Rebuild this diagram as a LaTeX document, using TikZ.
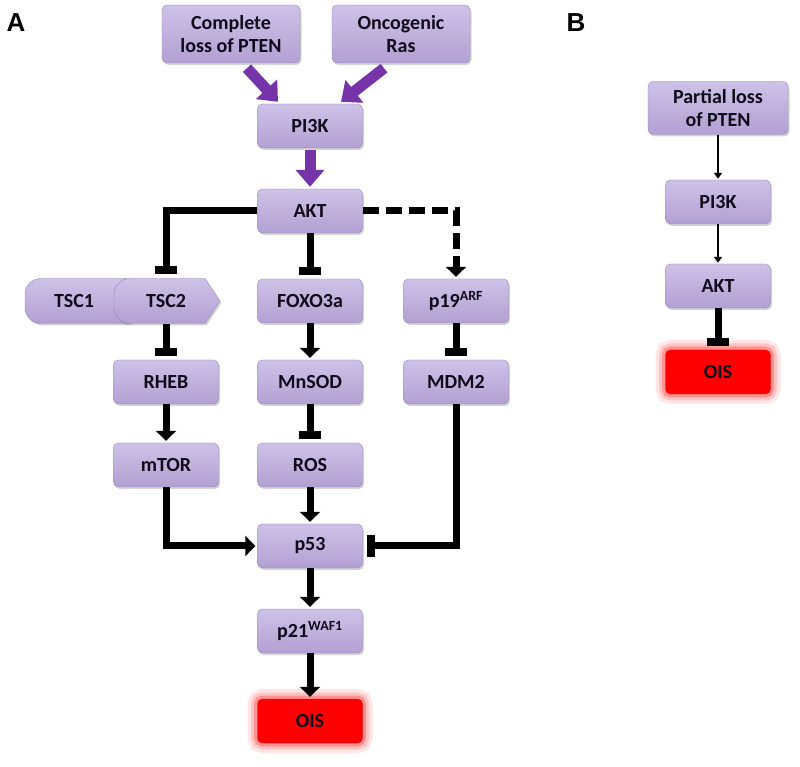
\documentclass[tikz,border=0pt]{standalone}
\usepackage{fontspec}
\setmainfont{Carlito}
\newfontfamily\panelfont{Liberation Sans}
\usetikzlibrary{arrows.meta,shadows}
\definecolor{lavtop}{RGB}{206,194,232}
\definecolor{lavbot}{RGB}{178,160,210}
\definecolor{lavedge}{RGB}{150,130,190}
\definecolor{txt}{RGB}{15,10,25}
\definecolor{arrpurple}{RGB}{118,52,168}
\tikzset{
  box/.style={draw=lavedge, rounded corners=5pt, top color=lavtop, bottom color=lavbot,
    minimum width=105pt, minimum height=44pt, inner sep=2pt, align=center, text=txt,
    font=\bfseries\fontsize{20}{23}\selectfont,
    drop shadow={shadow xshift=1.5pt, shadow yshift=-2pt, opacity=.35}},
  bigbox/.style={box, minimum width=138pt, minimum height=58pt},
  tscshape/.style={draw=lavedge, top color=lavtop, bottom color=lavbot,
    drop shadow={shadow xshift=1.5pt, shadow yshift=-2pt, opacity=.35}},
  tsclabel/.style={minimum height=45pt, inner sep=2pt, text=txt, font=\bfseries\fontsize{20}{23}\selectfont},
  oisbox/.style={rounded corners=5pt, fill=red, draw=red!85!black,
    minimum width=105pt, minimum height=44pt, text=txt, font=\bfseries\fontsize{20}{23}\selectfont,
    preaction={draw=red, line width=20pt, opacity=.10},
    preaction={draw=red, line width=13pt, opacity=.15},
    preaction={draw=red, line width=7pt, opacity=.25}},
  panel/.style={font=\panelfont\bfseries\fontsize{26}{28}\selectfont},
  pushes/.style={draw=arrpurple, line width=11pt, -{Triangle[length=17pt,width=28pt]}},
  act/.style={line width=7pt, -{Triangle[length=10pt,width=20pt]}, shorten >=2pt},
  dashact/.style={act, dash pattern=on 16pt off 7pt},
  inhib/.style={line width=7pt, -{Rectangle[length=8pt,width=22pt]}, shorten >=4pt},
  thinact/.style={line width=2pt, -{Triangle[length=6pt,width=8pt]}, shorten >=1pt}
}
\begin{document}
\begin{tikzpicture}[x=1pt,y=1pt]
  \useasboundingbox (0,0) rectangle (800,766);
  % panel A
  \node[panel] (labA) at (16,743) {A};
  \node[bigbox] (pten) at (231,732) {Complete\\loss of PTEN};
  \node[bigbox] (ras) at (401,732) {Oncogenic\\Ras};
  \node[box] (pi3k) at (310,640) {PI3K};
  \node[box] (akt) at (310,555) {AKT};
  % TSC1/TSC2 complex
  \draw[tscshape, rounded corners=16pt] (25,442.5) rectangle (140,487.5);
  \node[tsclabel] (tsc1) at (74,465) {TSC1};
  \draw[tscshape] (220,465) -- (205,487.5) [rounded corners=16pt] -- (114,487.5) -- (114,442.5) [sharp corners] -- (205,442.5) -- cycle;
  \node[tsclabel, minimum width=105pt] (tsc2) at (166,465) {TSC2};
  \node[box] (foxo) at (310,465) {FOXO3a};
  \node[box] (p19) at (456,465) {p19\textsuperscript{ARF}};
  \node[box] (rheb) at (166,384) {RHEB};
  \node[box] (mnsod) at (310,384) {MnSOD};
  \node[box] (mdm2) at (456,384) {MDM2};
  \node[box] (mtor) at (166,301) {mTOR};
  \node[box] (ros) at (310,301) {ROS};
  \node[box] (p53) at (310,220) {p53};
  \node[box] (p21) at (310,135) {p21\textsuperscript{WAF1}};
  \node[oisbox] (ois) at (310,45) {OIS};
  % panel B
  \node[panel] (labB) at (576,743) {B};
  \node[box, minimum width=140pt, minimum height=53pt] (bpten) at (718,658) {Partial loss\\of PTEN};
  \node[box] (bpi3k) at (718,564) {PI3K};
  \node[box] (bakt) at (718,480) {AKT};
  \node[oisbox] (bois) at (718,394) {OIS};
  % connectors A
  \draw[pushes] ([xshift=16pt,yshift=-5pt]pten.south) -- ([xshift=-32pt,yshift=2pt]pi3k.north);
  \draw[pushes] ([xshift=-17pt,yshift=-5pt]ras.south) -- ([xshift=31pt,yshift=2pt]pi3k.north);
  \draw[pushes] ([yshift=-2pt]pi3k.south) -- ([yshift=2pt]akt.north);
  \draw[inhib] (akt.west) -| (tsc2.north);
  \draw[inhib] (akt.south) -- (foxo.north);
  \draw[dashact] (akt.east) -| (p19.north);
  \draw[inhib] (tsc2.south) -- (rheb.north);
  \draw[act] (foxo.south) -- (mnsod.north);
  \draw[inhib] (p19.south) -- (mdm2.north);
  \draw[act] (rheb.south) -- (mtor.north);
  \draw[inhib] (mnsod.south) -- (ros.north);
  \draw[act] (mtor.south) |- (p53.west);
  \draw[act] (ros.south) -- (p53.north);
  \draw[inhib] (mdm2.south) |- (p53.east);
  \draw[act] (p53.south) -- (p21.north);
  \draw[act] (p21.south) -- (ois.north);
  % connectors B
  \draw[thinact] (bpten.south) -- (bpi3k.north);
  \draw[thinact] (bpi3k.south) -- (bakt.north);
  \draw[inhib] (bakt.south) -- (bois.north);
\end{tikzpicture}
\end{document}
